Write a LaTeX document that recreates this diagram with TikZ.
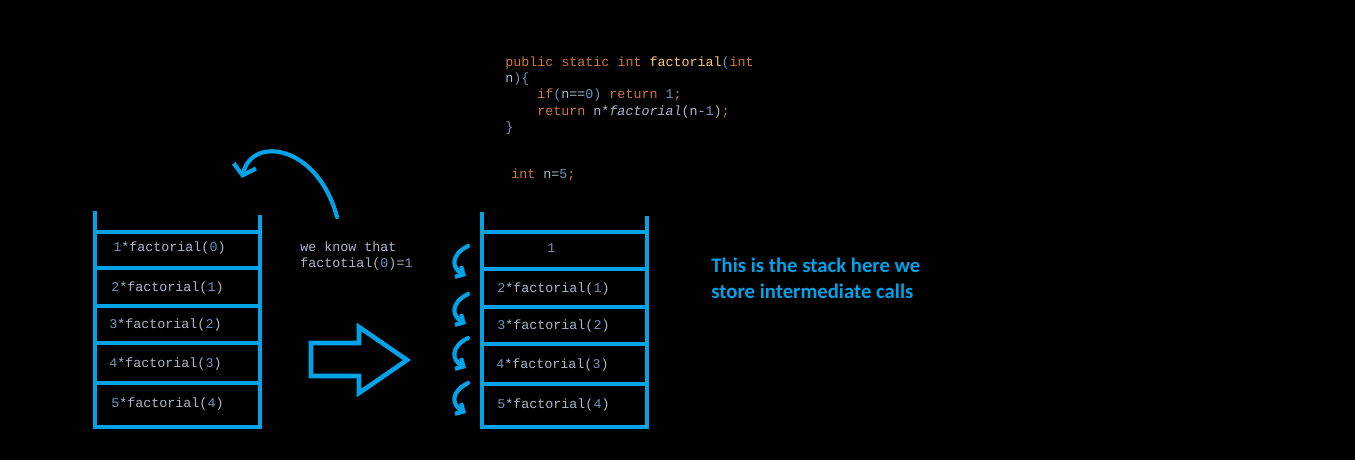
\documentclass[tikz,border=0pt]{standalone}
\usepackage{fontspec}
\setmainfont{Carlito}
\setmonofont{Liberation Mono}
\usetikzlibrary{arrows.meta}

\definecolor{stackblue}{RGB}{0,162,232}
\definecolor{kworange}{RGB}{204,120,50}
\definecolor{fnyellow}{RGB}{255,198,109}
\definecolor{numblue}{RGB}{104,151,187}
\definecolor{idgray}{RGB}{169,183,198}

% one frame of the stack: n*factorial(k)
\newcommand{\fcall}[2]{\textcolor{numblue}{#1}\textcolor{idgray}{*factorial(}\textcolor{numblue}{#2}\textcolor{idgray}{)}}
\newcommand{\kw}[1]{\textcolor{kworange}{#1}}
\newcommand{\num}[1]{\textcolor{numblue}{#1}}
\newcommand{\idf}[1]{\textcolor{idgray}{#1}}

\tikzset{
	wall/.style={stackblue, line width=2.6pt},
	code/.style={font=\ttfamily\fontsize{7.6}{9}\selectfont, inner sep=0pt, anchor=base west},
	squig/.style={stackblue, line width=2.4pt, line cap=round, -{Straight Barb[length=3.5pt,width=7pt]}},
	note/.style={font=\bfseries\fontsize{11.8}{14}\selectfont, text=stackblue, inner sep=0pt, anchor=base west}
}

\begin{document}
\begin{tikzpicture}[x=0.02cm,y=-0.02cm]
	\fill[black] (0,0) rectangle (1355,460);
	\useasboundingbox (0,0) rectangle (1355,460);

	%code
	\node[code] (l1) at (505,66) {\kw{public static int }\textcolor{fnyellow}{factorial}\num{(}\kw{int}};
	\node[code] (l2) at (505,82) {\idf{n}\num{)\{}};
	\node[code] (l3) at (537,98) {\kw{if}\num{(}\idf{n==}\num{0)} \kw{return }\num{1}\kw{;}};
	\node[code] (l4) at (537,115) {\kw{return }\idf{n*\itshape factorial}\idf{(n-}\num{1}\idf{)}\kw{;}};
	\node[code] (l5) at (505,131) {\num{\}}};
	\node[code] (l6) at (511,178) {\kw{int }\idf{n=}\num{5}\kw{;}};

	%left stack
	\draw[wall] (95,211) -- (95,427) -- (260,427) -- (260,215);
	\foreach \y in {232,268,306,343,383}{
		\draw[wall] (95,\y) -- (260,\y);}
	\node[code] (a1) at (113,251) {\fcall{1}{0}};
	\node[code] (a2) at (111,291) {\fcall{2}{1}};
	\node[code] (a3) at (109,328) {\fcall{3}{2}};
	\node[code] (a4) at (109,367) {\fcall{4}{3}};
	\node[code] (a5) at (111,407) {\fcall{5}{4}};

	%right stack
	\draw[wall] (482,212) -- (482,427) -- (647,427) -- (647,216);
	\foreach \y in {232,269,307,344,384}{
		\draw[wall] (482,\y) -- (647,\y);}
	\node[code] (b1) at (547,252) {\num{1}};
	\node[code] (b2) at (497,292) {\fcall{2}{1}};
	\node[code] (b3) at (497,329) {\fcall{3}{2}};
	\node[code] (b4) at (496,368) {\fcall{4}{3}};
	\node[code] (b5) at (497,408) {\fcall{5}{4}};

	%hint and curved arrow back to the top frame
	\node[code] (k1) at (300,251) {\idf{we know that}};
	\node[code] (k2) at (300,267) {\idf{factotial(}\num{0}\idf{)=}\num{1}};
	\draw[stackblue, line width=2.4pt, line cap=round, -{Straight Barb[length=5.5pt,width=13pt]}]
		(337,217) .. controls (318,145) and (252,135) .. (242,178);

	%hollow arrow
	\draw[wall] (311,343) -- (359,343) -- (359,327) -- (407,360) -- (359,393) -- (359,376) -- (311,376) -- cycle;

	%small squiggles
	\foreach \y in {246,294,338,383}{
		\draw[squig] (468,\y) .. controls (450,\y+9) and (452,\y+22) .. (466,\y+30);}

	\node[note] (t1) at (711,272) {This is the stack here we};
	\node[note] (t2) at (711,298) {store intermediate calls};
\end{tikzpicture}
\end{document}
